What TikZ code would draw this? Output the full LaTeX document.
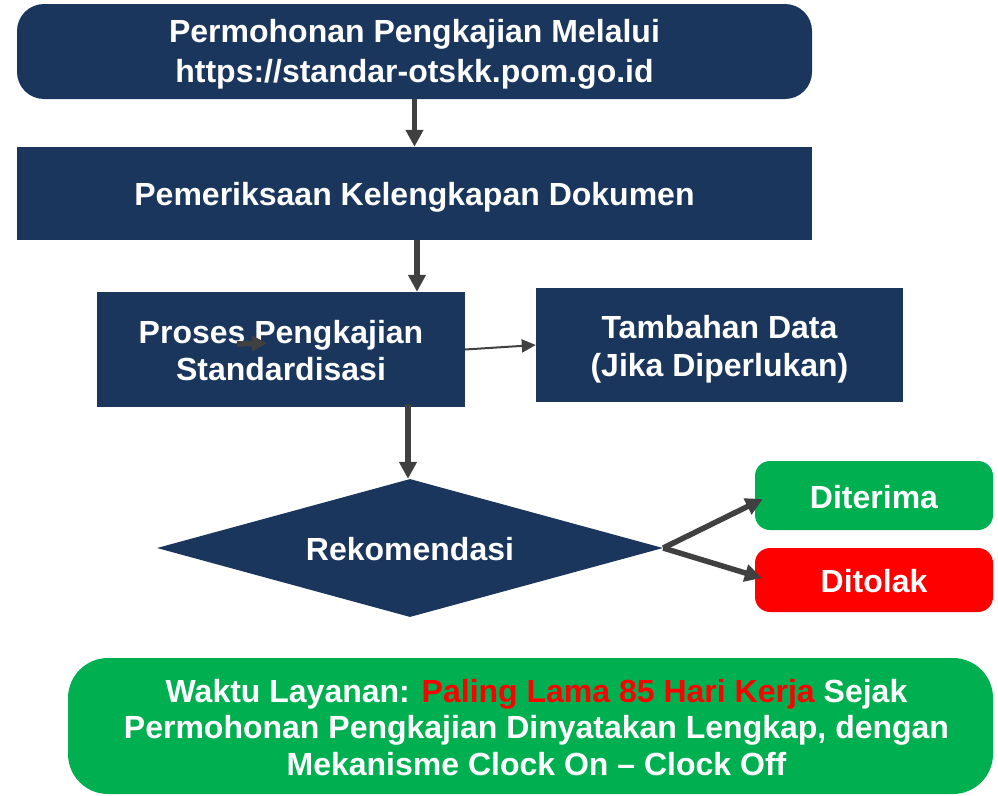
\documentclass[tikz,border=0pt]{standalone}
\usepackage{fontspec}
\setmainfont{Liberation Sans}
\usetikzlibrary{shapes.geometric,arrows.meta,calc}
\definecolor{navy}{HTML}{1A365D}
\definecolor{okgreen}{HTML}{00B050}
\definecolor{nored}{HTML}{FF0000}
\definecolor{arrowgray}{HTML}{404040}

\begin{document}
\begin{tikzpicture}[x=1pt,y=-1pt,
  boxtext/.style={text=white, font=\bfseries\fontsize{32}{38}\selectfont, align=center, inner sep=0pt},
  shape box/.style={inner sep=0pt},
  flow/.style={draw=arrowgray, line width=5.5pt, -{Triangle[length=17pt,width=17pt]}},
  thinflow/.style={draw=arrowgray, line width=2pt, -{Triangle[length=14pt,width=13pt]}},
  shortflow/.style={draw=arrowgray, line width=5.5pt, -{Triangle[length=15pt,width=15pt]}}
]
\useasboundingbox (0,0) rectangle (998,795);

% process boxes
\node[shape box, fill=navy, rounded corners=27pt, minimum width=795pt, minimum height=95pt] (req) at (414.5,51.5) {};
\node[shape box, fill=navy, minimum width=795pt, minimum height=93pt] (pem) at (414.5,193.5) {};
\node[shape box, fill=navy, minimum width=368pt, minimum height=115pt] (proses) at (281,349.5) {};
\node[shape box, fill=navy, minimum width=367pt, minimum height=114pt] (tambah) at (719.5,345) {};
\node[shape box, fill=navy, diamond, aspect=3.667, minimum width=506pt, minimum height=138pt] (rek) at (410,548) {};

% outcomes
\node[shape box, fill=okgreen, rounded corners=15pt, minimum width=238pt, minimum height=69pt] (ok) at (874,495.5) {};
\node[shape box, fill=nored, rounded corners=15pt, minimum width=238pt, minimum height=64pt] (no) at (874,580) {};

% service time note
\node[shape box, fill=okgreen, rounded corners=40pt, minimum width=925pt, minimum height=136pt] (note) at (530.5,726) {};

% labels
\node[boxtext, font=\bfseries\fontsize{32}{40}\selectfont, yshift=-3pt] (req-t) at (req)
  {Permohonan Pengkajian Melalui\\https://standar-otskk.pom.go.id};
\node[boxtext, yshift=-4pt] (pem-t) at (pem) {Pemeriksaan Kelengkapan Dokumen};
\node[boxtext, font=\bfseries\fontsize{32}{37}\selectfont, yshift=-1pt] (proses-t) at (proses)
  {Proses Pengkajian\\Standardisasi};
\node[boxtext, yshift=-4pt] (tambah-t) at (tambah) {Tambahan Data\\(Jika Diperlukan)};
\node[boxtext, yshift=-1.5pt] (rek-t) at (rek) {Rekomendasi};
\node[boxtext, yshift=-1.5pt] (ok-t) at (ok) {Diterima};
\node[boxtext, yshift=-1.5pt] (no-t) at (no) {Ditolak};
\node[boxtext, font=\bfseries\fontsize{32}{36.5}\selectfont, xshift=6pt, yshift=-1.5pt] (note-t) at (note)
  {Waktu Layanan: \textcolor{nored}{Paling Lama 85 Hari Kerja} Sejak\\
   Permohonan Pengkajian Dinyatakan Lengkap, dengan\\
   Mekanisme Clock On -- Clock Off};

% connectors
\draw[flow] (req.south) -- (pem.north);
\coordinate (p2) at ($(pem.south)+(2.5,0)$);
\draw[flow] (p2) -- (p2 |- proses.north);
\coordinate (p3) at ($(rek.north |- proses.south)+(-2,-3)$);
\draw[flow] (p3) -- (p3 |- rek.north);
\draw[thinflow] (proses.east) -- (tambah.west);
\coordinate (s1) at (237,344);
\coordinate (s2) at (267,343);
\draw[shortflow] (s1) -- (s2);
\draw[flow] (rek.east) -- ($(ok.west)+(8,3.5)$);
\draw[flow] (rek.east) -- ($(no.west)+(7,-2)$);
\end{tikzpicture}
\end{document}
